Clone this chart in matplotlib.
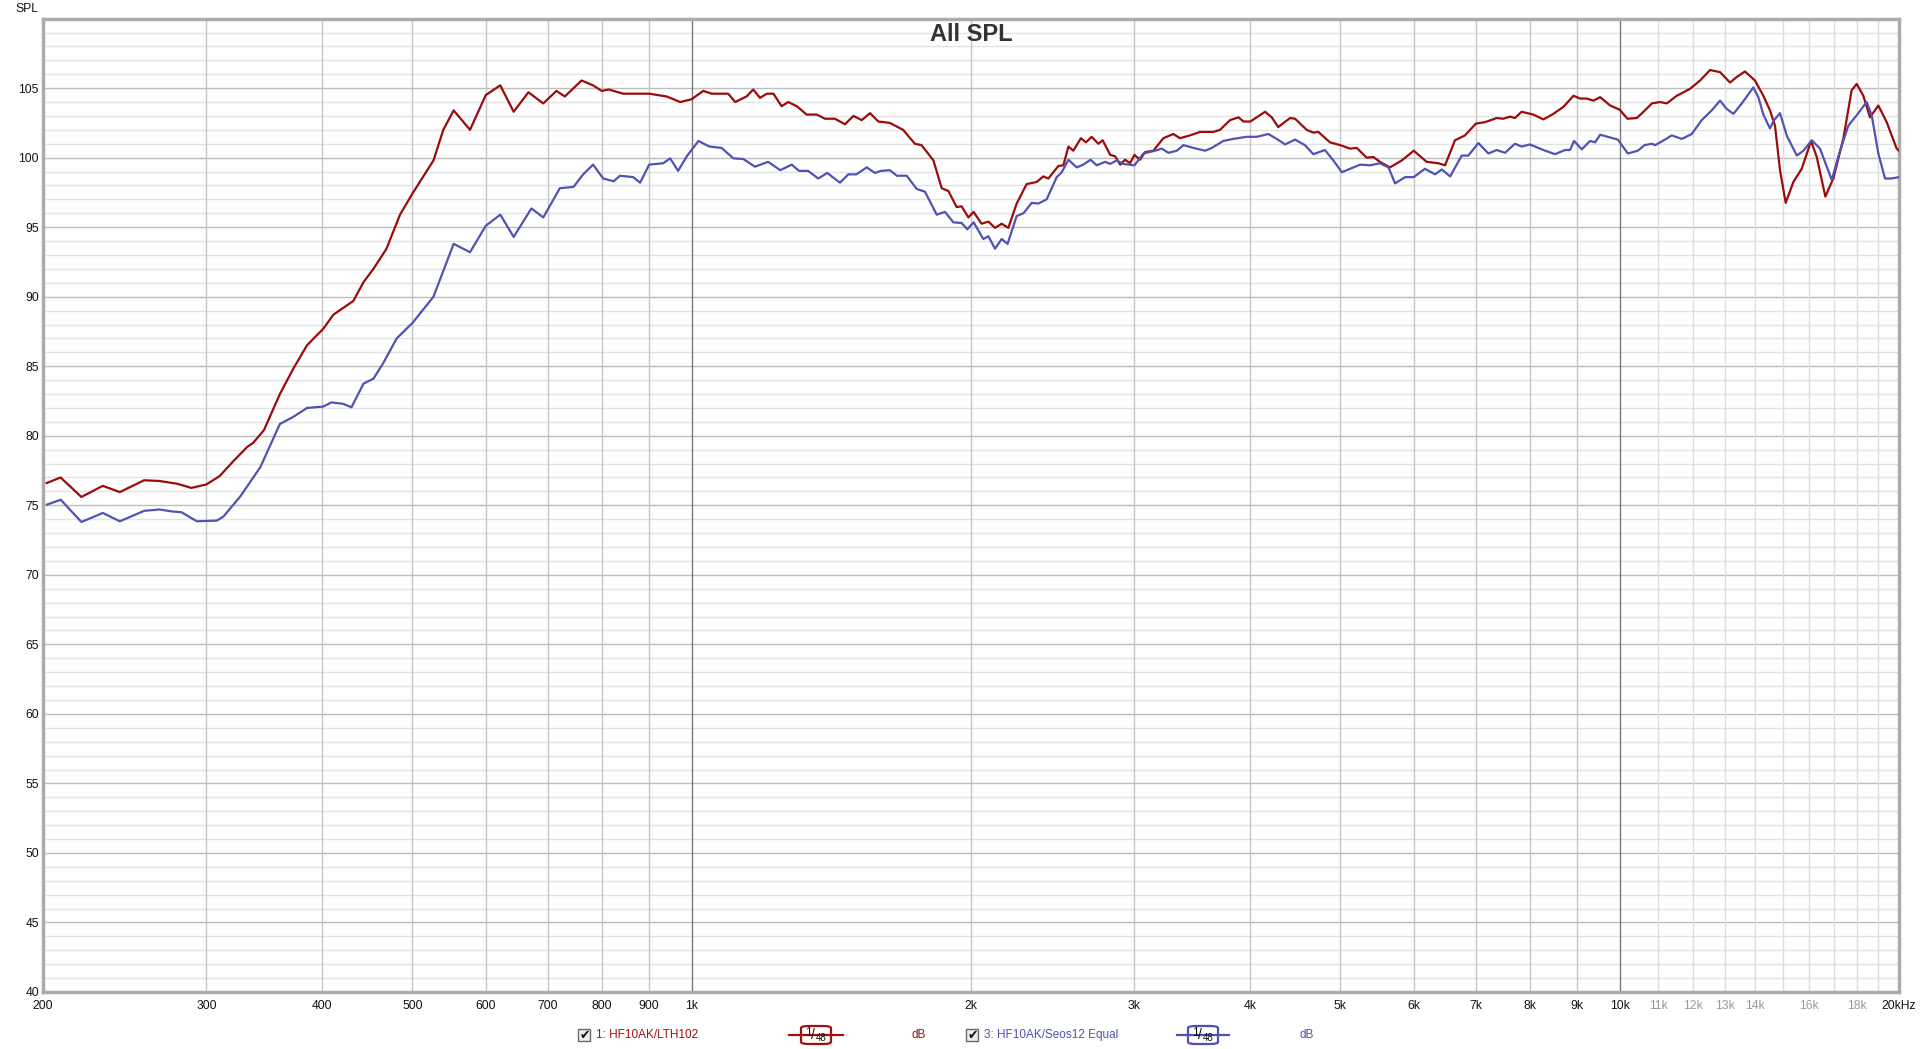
import matplotlib
matplotlib.use('Agg')
import matplotlib.pyplot as plt
from matplotlib.patches import FancyBboxPatch, Rectangle
from matplotlib.lines import Line2D

# --- Data (frequency in Hz, SPL in dB) ---
freq_lth102 = [
    201.8, 208.9, 220, 232, 242, 257, 267, 279, 289, 300, 310, 321, 332, 337, 346,
    360, 372, 385, 401, 411, 432, 443, 454, 469, 485, 500, 527, 540, 554, 577,
    600, 622, 643, 667, 692, 715, 730, 761, 783, 800, 814, 844, 900, 940, 972,
    1000, 1029, 1051, 1095, 1114, 1146, 1165, 1185, 1205, 1225, 1250, 1271, 1298,
    1330, 1364, 1392, 1427, 1463, 1494, 1525, 1557, 1589, 1635, 1690, 1740, 1769,
    1822, 1860, 1891, 1930, 1954, 1987, 2013, 2053, 2088, 2123, 2158, 2194, 2240,
    2296, 2354, 2393, 2423, 2484, 2515, 2547, 2578, 2627, 2660, 2698, 2743, 2773,
    2825, 2860, 2896, 2931, 2968, 3000, 3042, 3080, 3144, 3224, 3304, 3359, 3444,
    3530, 3649, 3710, 3804, 3884, 3932, 4000, 4064, 4149, 4218, 4287, 4414, 4469,
    4600, 4677, 4735, 4874, 5000, 5123, 5208, 5338, 5428, 5516, 5656, 5824, 6000,
    6194, 6376, 6484, 6646, 6813, 7000, 7160, 7370, 7492, 7617, 7713, 7841, 8072,
    8276, 8484, 8697, 8917, 9066, 9218, 9371, 9528, 9768, 10000, 10196, 10435,
    10610, 10832, 11054, 11240, 11522, 11908, 12209, 12515, 12829, 13151, 13371,
    13646, 13990, 14284, 14521, 14703, 14887, 15098, 15389, 15711, 16080, 16307,
    16660, 16991, 17418, 17783, 18007, 18306, 18610, 19000, 19400, 19885, 20000,
]
spl_lth102 = [
    76.6, 77.0, 75.6, 76.4, 75.95, 76.8, 76.75, 76.55, 76.25, 76.5, 77.1, 78.2, 79.2, 79.5, 80.4,
    83.0, 84.8, 86.5, 87.7, 88.7, 89.7, 91.05, 92.0, 93.45, 95.9, 97.4, 99.8, 102.0, 103.4, 102.0,
    104.5, 105.2, 103.3, 104.7, 103.9, 104.8, 104.4, 105.55, 105.2, 104.8, 104.9, 104.6, 104.6, 104.4, 104.0,
    104.2, 104.8, 104.6, 104.6, 104.0, 104.4, 104.9, 104.3, 104.6, 104.6, 103.7, 104.0, 103.7,
    103.1, 103.1, 102.8, 102.8, 102.4, 103.0, 102.7, 103.2, 102.6, 102.5, 102.0, 101.0, 100.9,
    99.8, 97.8, 97.6, 96.45, 96.5, 95.7, 96.1, 95.25, 95.4, 94.95, 95.25, 94.95, 96.7,
    98.1, 98.25, 98.65, 98.5, 99.4, 99.45, 100.8, 100.5, 101.4, 101.1, 101.5, 101.0, 101.25,
    100.2, 100.1, 99.5, 99.85, 99.6, 100.2, 99.85, 100.4, 100.5, 101.4, 101.7, 101.4, 101.6,
    101.85, 101.85, 102.0, 102.7, 102.9, 102.6, 102.6, 102.9, 103.3, 102.9, 102.2, 102.85, 102.8,
    102.0, 101.8, 101.85, 101.1, 100.9, 100.65, 100.7, 100.0, 100.05, 99.7, 99.3, 99.8, 100.5,
    99.7, 99.6, 99.45, 101.25, 101.6, 102.45, 102.55, 102.85, 102.8, 102.95, 102.85, 103.3, 103.1,
    102.75, 103.15, 103.65, 104.45, 104.25, 104.25, 104.1, 104.35, 103.75, 103.45, 102.8, 102.85,
    103.3, 103.9, 104.0, 103.9, 104.45, 104.95, 105.55, 106.3, 106.15, 105.4, 105.8,
    106.2, 105.55, 104.45, 103.4, 102.3, 99.1, 96.75, 98.25, 99.2, 101.2, 100.05,
    97.2, 98.5, 101.35, 104.85, 105.3, 104.45, 102.9, 103.75, 102.55, 100.65, 100.5,
]

freq_seos12 = [
    202, 209, 220, 232, 242, 257, 267, 276, 282, 293, 308, 313, 326, 343, 360,
    372, 385, 401, 409, 421, 430, 443, 454, 465, 481, 500, 527, 554, 577, 600,
    622, 643, 672, 692, 721, 746, 764, 783, 803, 824, 837, 865, 880, 900, 932,
    948, 967, 988, 1017, 1045, 1077, 1109, 1137, 1170, 1209, 1246, 1282, 1305,
    1335, 1369, 1400, 1445, 1475, 1505, 1544, 1576, 1600, 1635, 1664, 1705, 1748,
    1784, 1837, 1875, 1914, 1954, 1982, 2013, 2062, 2088, 2123, 2158, 2190, 2240,
    2278, 2325, 2364, 2413, 2474, 2505, 2547, 2600, 2643, 2691, 2732, 2790, 2825,
    2871, 2918, 3000, 3068, 3158, 3211, 3264, 3333, 3388, 3473, 3576, 3635, 3740,
    3834, 3964, 4064, 4183, 4270, 4360, 4469, 4580, 4677, 4813, 4915, 5019, 5123,
    5252, 5383, 5516, 5635, 5728, 5873, 6000, 6168, 6325, 6432, 6567, 6758, 6870,
    7044, 7221, 7370, 7524, 7713, 7841, 8004, 8276, 8518, 8732, 8842, 8930, 9103,
    9293, 9409, 9528, 9768, 9955, 10206, 10461, 10637, 10832, 10920, 11192, 11380,
    11667, 11959, 12259, 12566, 12829, 13044, 13262, 13540, 13933, 14108, 14284,
    14521, 14668, 14887, 15136, 15520, 15776, 16108, 16440, 16926, 17278, 17638,
    18007, 18457, 18690, 19000, 19317, 19640, 20000,
]
spl_seos12 = [
    75.05, 75.4, 73.8, 74.45, 73.85, 74.6, 74.7, 74.55, 74.5, 73.85, 73.9, 74.2, 75.6, 77.75, 80.85,
    81.35, 82.0, 82.1, 82.4, 82.3, 82.05, 83.75, 84.1, 85.2, 87.0, 88.1, 90.0, 93.8, 93.2, 95.1,
    95.9, 94.3, 96.35, 95.7, 97.8, 97.9, 98.8, 99.5, 98.5, 98.3, 98.7, 98.6, 98.2, 99.5, 99.6,
    99.95, 99.05, 100.1, 101.2, 100.8, 100.7, 99.95, 99.9, 99.35, 99.7, 99.1, 99.5, 99.05,
    99.05, 98.5, 98.9, 98.2, 98.8, 98.8, 99.3, 98.9, 99.05, 99.1, 98.7, 98.7, 97.75,
    97.55, 95.9, 96.1, 95.35, 95.3, 94.85, 95.35, 94.15, 94.35, 93.45, 94.15, 93.8, 95.8,
    96.0, 96.75, 96.7, 97.0, 98.6, 98.95, 99.85, 99.3, 99.5, 99.85, 99.45, 99.7, 99.55,
    99.8, 99.55, 99.45, 100.3, 100.5, 100.65, 100.35, 100.5, 100.9, 100.7, 100.5, 100.7, 101.2,
    101.35, 101.5, 101.5, 101.7, 101.35, 100.95, 101.3, 100.9, 100.25, 100.55, 99.8, 98.95, 99.2,
    99.5, 99.45, 99.6, 99.3, 98.15, 98.6, 98.6, 99.2, 98.8, 99.15, 98.65, 100.15, 100.15,
    101.05, 100.3, 100.55, 100.35, 101.0, 100.8, 100.95, 100.55, 100.25, 100.55, 100.55, 101.2, 100.6,
    101.2, 101.1, 101.65, 101.45, 101.3, 100.3, 100.5, 100.9, 101.0, 100.9, 101.3, 101.6,
    101.35, 101.7, 102.7, 103.4, 104.1, 103.5, 103.15, 103.9, 105.05, 104.35, 103.1,
    102.1, 102.7, 103.2, 101.6, 100.15, 100.5, 101.25, 100.65, 98.4, 100.5, 102.3,
    103.05, 104.0, 103.05, 100.3, 98.5, 98.5, 98.6,
]

x_ticks = [200, 300, 400, 500, 600, 700, 800, 900, 1000, 2000, 3000, 4000, 5000,
           6000, 7000, 8000, 9000, 10000, 11000, 12000, 13000, 14000, 16000, 18000, 20000]
x_tick_labels = ['200', '300', '400', '500', '600', '700', '800', '900', '1k', '2k', '3k',
                 '4k', '5k', '6k', '7k', '8k', '9k', '10k', '11k', '12k', '13k', '14k',
                 '16k', '18k', '20kHz']
faint_labels = ['11k', '12k', '13k', '14k', '16k', '18k']
y_ticks = list(range(40, 110, 5))

RED = '#9a0c0c'
BLUE = '#5252b4'
W, H = 1920, 1049


def fx(px):
    return px / W


def fy(py):
    return 1 - py / H


fig = plt.figure(figsize=(19.2, 10.49), dpi=100, facecolor='white')
ax = fig.add_axes([fx(43), fy(992), fx(1899) - fx(43), fy(18.6) - fy(992)])
ax.set_xscale('log')
ax.set_xlim(200, 20000)
ax.set_ylim(40, 110)

# grid, drawn by hand so each family of lines gets its own shade
for db in range(41, 110):
    ax.axhline(db, color='#bdbdbd' if db % 5 == 0 else '#e3e3e3', lw=1.0, zorder=0)
for f in list(range(300, 1000, 100)) + list(range(2000, 10000, 1000)):
    ax.axvline(f, color='#c4c4c4', lw=1.0, zorder=0)
for f in range(11000, 20000, 1000):
    ax.axvline(f, color='#dedede', lw=1.0, zorder=0)
for f in (1000, 10000):
    ax.axvline(f, color='#7a7a7a', lw=1.0, zorder=0)

ax.plot(freq_lth102, spl_lth102, color=RED, lw=1.6, zorder=3, solid_joinstyle='round')
ax.plot(freq_seos12, spl_seos12, color=BLUE, lw=1.6, zorder=3, solid_joinstyle='round')

ax.minorticks_off()
ax.set_xticks(x_ticks)
ax.set_xticklabels(x_tick_labels)
ax.set_yticks(y_ticks)
ax.set_yticklabels([str(v) for v in y_ticks])
ax.tick_params(length=0, labelsize=8.7, pad=3)
ax.tick_params(axis='x', pad=6)
for lbl in ax.get_xticklabels() + ax.get_yticklabels():
    lbl.set_fontfamily('Liberation Sans')
    lbl.set_color('#999999' if lbl.get_text() in faint_labels else '#111111')

for sp in ax.spines.values():
    sp.set_color('#ababab')
    sp.set_linewidth(2.5)

ax.text(0.5, 1 - (35 - 18.6) / (992 - 18.6), 'All SPL', transform=ax.transAxes,
        ha='center', va='center', fontsize=17, fontweight='bold', color='#333333',
        family='Liberation Sans', zorder=5)
fig.text(fx(27), fy(9), 'SPL', ha='center', va='center', fontsize=8.7,
         family='Liberation Sans', color='#111111')

# --- legend strip along the bottom ---
LEG_Y = 1035


def legend_entry(box_x, name_x, line_x0, line_x1, db_x, name, color):
    fig.patches.append(Rectangle((fx(box_x), fy(LEG_Y + 6)), fx(12), 12 / H,
                                 transform=fig.transFigure, facecolor='#ececec',
                                 edgecolor='#6a6a6a', lw=1.0))
    fig.text(fx(box_x + 6.5), fy(LEG_Y), '\u2714', ha='center', va='center',
             fontsize=9, color='#111111', family='DejaVu Sans')
    fig.text(fx(name_x), fy(LEG_Y), name, ha='left', va='center', fontsize=8.5,
             color=color, family='Liberation Sans')
    fig.lines.append(Line2D([fx(line_x0), fx(line_x1)], [fy(LEG_Y), fy(LEG_Y)],
                            transform=fig.transFigure, color=color, lw=1.6))
    mid = (line_x0 + line_x1) / 2
    fig.patches.append(FancyBboxPatch((fx(mid - 15), fy(LEG_Y + 9)), fx(30), 18 / H,
                                      boxstyle='round,pad=0,rounding_size=0.004',
                                      transform=fig.transFigure, facecolor='white',
                                      edgecolor=color, lw=1.6, mutation_aspect=0.5))
    # "1/48" drawn as a stacked fraction like the smoothing badge
    fig.text(fx(mid - 8), fy(LEG_Y - 2), '1', ha='center', va='center',
             fontsize=8.5, color='#111111', family='Liberation Sans')
    fig.text(fx(mid - 3), fy(LEG_Y), '/', ha='center', va='center',
             fontsize=10, color='#111111', family='Liberation Sans')
    fig.text(fx(mid + 5.5), fy(LEG_Y + 3), '48', ha='center', va='center',
             fontsize=7, color='#111111', family='Liberation Sans')
    fig.text(fx(db_x), fy(LEG_Y), 'dB', ha='left', va='center', fontsize=8.5,
             color=color, family='Liberation Sans')


legend_entry(578, 596, 789, 843, 912, '1: HF10AK/LTH102', '#a01010')
legend_entry(966, 984, 1177, 1229, 1300, '3: HF10AK/Seos12 Equal', '#5050b0')

fig.savefig('out.png', dpi=100, facecolor='white')
